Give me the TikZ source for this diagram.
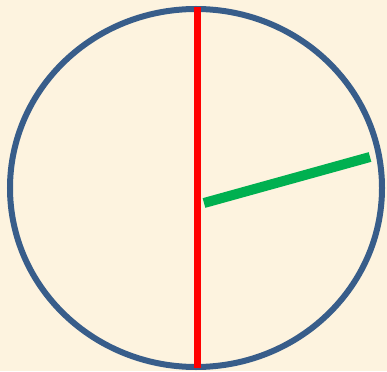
\documentclass[tikz,border=0pt]{standalone}
\definecolor{bgcream}{RGB}{253,243,223}
\definecolor{rimblue}{RGB}{56,93,138}
\definecolor{handred}{RGB}{255,0,0}
\definecolor{handgreen}{RGB}{0,176,80}
\tikzset{
  rim/.style={draw=rimblue,line width=6pt},
  redhand/.style={draw=handred,line width=7pt,line cap=butt},
  greenhand/.style={draw=handgreen,line width=10pt,line cap=butt},
}
\begin{document}
\begin{tikzpicture}[x=1pt,y=-1pt]
\fill[bgcream] (0,0) rectangle (387,371);
\useasboundingbox (0,0) rectangle (387,371);
\coordinate (c) at (196,188);
\coordinate (top) at (197,7);
\coordinate (bottom) at (197,368);
\coordinate (gstart) at (204,203);
\coordinate (gend) at (370,157);
\draw[rim] (c) ellipse [x radius=186, y radius=179];
\draw[redhand] (top) -- (bottom);
\draw[greenhand] (gstart) -- (gend);
\end{tikzpicture}
\end{document}
